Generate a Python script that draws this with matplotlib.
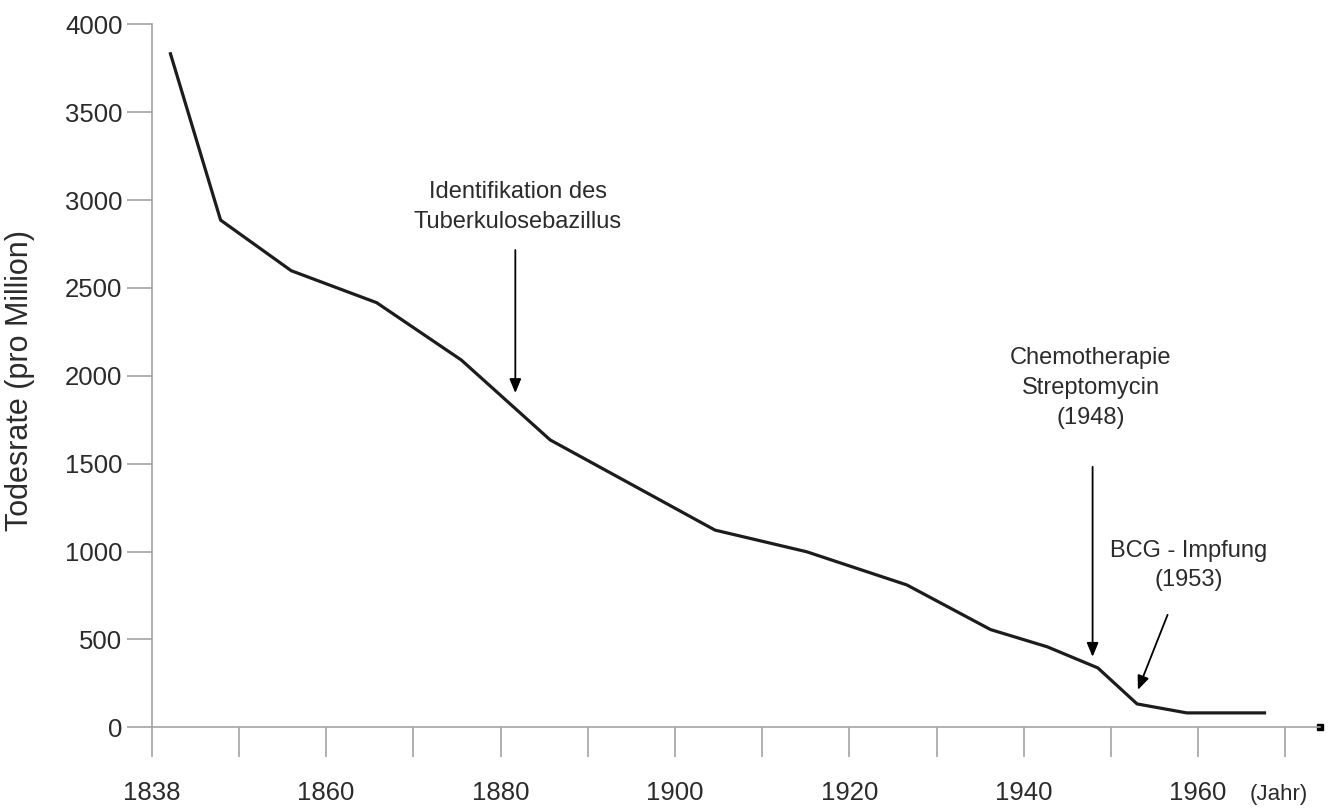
import matplotlib
matplotlib.use("Agg")
import matplotlib.pyplot as plt
from matplotlib import font_manager

# ---- data ----
years = [1842.1, 1847.9, 1856.0, 1865.8, 1875.5, 1885.7, 1904.6, 1915.1,
         1926.6, 1936.2, 1942.7, 1948.5, 1953.0, 1958.7, 1967.8]
death_rate = [3841, 2886, 2598, 2416, 2090, 1635, 1122, 999,
              810, 556, 458, 338, 133, 82, 82]

tick_years = [1840, 1850, 1860, 1870, 1880, 1890, 1900, 1910, 1920, 1930,
              1940, 1950, 1960, 1970]
tick_labels = ["1838", "", "1860", "", "1880", "", "1900", "", "1920", "",
               "1940", "", "1960", ""]
y_ticks = [0, 500, 1000, 1500, 2000, 2500, 3000, 3500, 4000]

ylabel = "Todesrate (pro Million)"
xunit = "(Jahr)"
ann_koch = "Identifikation des\nTuberkulosebazillus"
ann_chemo = "Chemotherapie\nStreptomycin\n(1948)"
ann_bcg = "BCG - Impfung\n(1953)"

# ---- style ----
avail = {f.name for f in font_manager.fontManager.ttflist}
base_font = "Liberation Sans" if "Liberation Sans" in avail else "DejaVu Sans"
plt.rcParams['font.family'] = [base_font, 'DejaVu Sans']

txt_col = "#2b2b2b"
axis_col = "#a3a3a3"

fig = plt.figure(figsize=(13.3, 8.08), dpi=100)
W, H = 1330, 808
left_px, right_px, top_px, bot_px = 151.7, 1320, 24.3, 727.3
ax = fig.add_axes([left_px / W, (H - bot_px) / H,
                   (right_px - left_px) / W, (bot_px - top_px) / H])

ax.plot(years, death_rate, color="#1c1c1c", lw=2.3, solid_joinstyle="round",
        solid_capstyle="butt")

ax.set_xlim(1840, 1840 + (right_px - left_px) / 8.72)
ax.set_ylim(0, 4000)

for s in ["top", "right"]:
    ax.spines[s].set_visible(False)
for s in ["left", "bottom"]:
    ax.spines[s].set_color(axis_col)
    ax.spines[s].set_linewidth(1.2)

ax.set_yticks(y_ticks)
ax.set_yticklabels([str(v) for v in y_ticks])
ax.set_xticks(tick_years)
ax.set_xticklabels(tick_labels)
ax.tick_params(axis="y", direction="out", length=18, width=1.2, color=axis_col,
               labelsize=18.5, labelcolor=txt_col, pad=3)
ax.tick_params(axis="x", direction="out", length=21.5, width=1.2, color=axis_col,
               labelsize=18.5, labelcolor=txt_col, pad=17)

ax.set_ylabel(ylabel, fontsize=22, color=txt_col)
ax.yaxis.set_label_coords(-0.100, 0.494)

# end marker of x axis
ax.plot([ax.get_xlim()[1]], [0], marker="s", ms=5, color="black",
        mec="black", clip_on=False)

# unit label
ax.text(1969.2, -380, xunit, fontsize=16, color=txt_col, ha="center",
        va="center", clip_on=False)

# annotations
arrow_kw = dict(arrowstyle="-|>,head_length=0.6,head_width=0.25",
                color="black", lw=1.3, mutation_scale=14, shrinkA=0, shrinkB=0)

ax.text(1882.0, 2960, ann_koch, fontsize=17, color=txt_col, ha="center",
        va="center", linespacing=1.45)
ax.annotate("", xy=(1881.7, 1902), xytext=(1881.7, 2716), arrowprops=arrow_kw)

ax.text(1947.7, 1930, ann_chemo, fontsize=17, color=txt_col, ha="center",
        va="center", linespacing=1.45)
ax.annotate("", xy=(1947.9, 401), xytext=(1947.9, 1482), arrowprops=arrow_kw)

ax.text(1958.9, 920, ann_bcg, fontsize=17, color=txt_col, ha="center",
        va="center", linespacing=1.45)
ax.annotate("", xy=(1953.1, 213), xytext=(1956.5, 640), arrowprops=arrow_kw)

fig.savefig("out.png", dpi=100)
